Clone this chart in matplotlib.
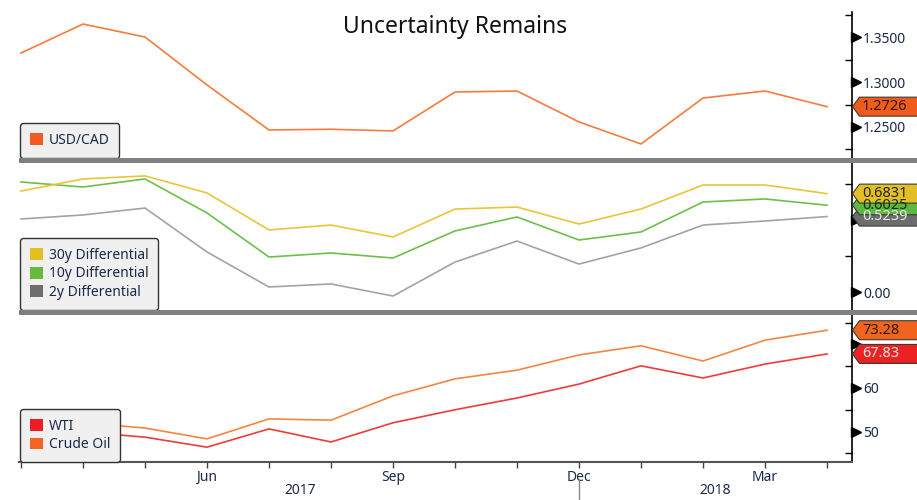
import matplotlib
matplotlib.use('Agg')
import matplotlib.pyplot as plt
from matplotlib.patches import Polygon, Rectangle, Patch
from matplotlib.transforms import blended_transform_factory, ScaledTranslation
import matplotlib.ticker as mticker

plt.rcParams['font.family'] = ['Noto Sans', 'DejaVu Sans']

# ---------------- data ----------------
months = ['Mar', 'Apr', 'May', 'Jun', 'Jul', 'Aug', 'Sep', 'Oct', 'Nov', 'Dec', 'Jan', 'Feb', 'Mar', 'Apr']
month_tick_labels = ['', '', '', 'Jun', '', '', 'Sep', '', '', 'Dec', '', '', 'Mar', '']
years = ['2017', '2018']

usdcad = [1.3322, 1.3644, 1.3500, 1.2967, 1.2467, 1.2475, 1.2456, 1.2889, 1.2900, 1.2556, 1.2311, 1.2822, 1.2900, 1.2726]
diff30 = [0.701, 0.785, 0.806, 0.688, 0.431, 0.465, 0.382, 0.576, 0.590, 0.472, 0.576, 0.743, 0.743, 0.6831]
diff10 = [0.764, 0.729, 0.785, 0.549, 0.243, 0.271, 0.236, 0.424, 0.521, 0.361, 0.417, 0.625, 0.646, 0.6025]
diff2 = [0.507, 0.535, 0.583, 0.278, 0.035, 0.056, -0.028, 0.208, 0.354, 0.194, 0.306, 0.465, 0.493, 0.5239]
crude = [53.3, 52.0, 50.8, 48.3, 52.9, 52.6, 58.2, 62.1, 64.1, 67.6, 69.7, 66.2, 71.0, 73.28]
wti = [50.8, 49.9, 48.7, 46.4, 50.6, 47.6, 52.0, 55.0, 57.7, 60.9, 65.1, 62.3, 65.5, 67.83]

x = list(range(len(months)))

W, H = 917, 500
fig = plt.figure(figsize=(W / 100, H / 100), dpi=100)
fig.patch.set_facecolor('white')

def fax(top_px, bot_px):
    return fig.add_axes([19 / W, 1 - bot_px / H, (852 - 19) / W, (bot_px - top_px) / H])

ax1 = fax(12, 157.5)
ax2 = fax(163, 309.5)
ax3 = fax(315, 462)

xlim = (-0.032, 13.403)
label_color = '#1c2a48'

def style_axis(ax, ylim, majors, major_labels, minors):
    ax.set_xlim(*xlim)
    ax.set_ylim(*ylim)
    ax.set_facecolor('white')
    for s in ['left', 'top', 'bottom']:
        ax.spines[s].set_visible(False)
    ax.spines['right'].set_color('black')
    ax.spines['right'].set_linewidth(1.2)
    ax.yaxis.tick_right()
    ax.yaxis.set_major_locator(mticker.FixedLocator(majors))
    ax.yaxis.set_major_formatter(mticker.FixedFormatter(major_labels))
    ax.yaxis.set_minor_locator(mticker.FixedLocator(minors))
    ax.tick_params(axis='y', which='major', length=0, pad=8, labelsize=10, labelcolor=label_color)
    ax.tick_params(axis='y', which='minor', direction='in', length=5, width=1, color='black')
    ax.tick_params(axis='x', which='both', bottom=False, labelbottom=False)
    off = ScaledTranslation(4 / 100, 0, fig.dpi_scale_trans)
    trans = blended_transform_factory(ax.transAxes, ax.transData) + off
    ax.plot([1] * len(majors), majors, ls='none', marker='>', ms=6.5, color='black',
            transform=trans, clip_on=False, zorder=4)

# labels at 0.50 and 70 are hidden behind the value callouts in the reference
style_axis(ax1, (1.2161, 1.3778), [1.25, 1.30, 1.35], ['1.2500', '1.3000', '1.3500'],
           [1.225, 1.275, 1.325, 1.375])
style_axis(ax2, (-0.1215, 0.8958), [0.0, 0.5], ['0.00', ''], [0.25, 0.75])
style_axis(ax3, (42.99, 76.78), [50, 60, 70], ['50', '60', ''], [45, 55, 65, 75])

lw = 1.2
ax1.plot(x, usdcad, color='#f47c3c', lw=lw)
ax2.plot(x, diff2, color='#a3a3a3', lw=lw)
ax2.plot(x, diff10, color='#6cc04a', lw=lw)
ax2.plot(x, diff30, color='#e8c53a', lw=lw)
ax3.plot(x, crude, color='#f5853f', lw=lw)
ax3.plot(x, wti, color='#ef3b3b', lw=lw)

# x axis on bottom panel
ax3.spines['bottom'].set_visible(True)
ax3.spines['bottom'].set_color('#555555')
ax3.spines['bottom'].set_linewidth(1.5)
ax3.set_xticks(x)
ax3.set_xticklabels(month_tick_labels)
ax3.tick_params(axis='x', which='major', bottom=True, labelbottom=True, direction='out',
                length=4, width=1, color='#444444', labelsize=10, labelcolor=label_color, pad=2)

ytr = blended_transform_factory(ax3.transData, fig.transFigure)
ax3.text(4.5, 1 - 491 / H, years[0], transform=ytr, ha='center', va='center',
         fontsize=10, color=label_color, clip_on=False)
ax3.text(11.2, 1 - 491 / H, years[1], transform=ytr, ha='center', va='center',
         fontsize=10, color=label_color, clip_on=False)
ax3.plot([9, 9], [1 - 479 / H, 0], transform=ytr, color='#888888', lw=1, clip_on=False)

# legends
def legend(ax, labels, colors):
    handles = [Patch(facecolor=c, edgecolor='none') for c in colors]
    leg = ax.legend(handles, labels, loc='lower left', bbox_to_anchor=(0.0015, 0.0),
                    borderaxespad=0, fontsize=10, handlelength=0.95, handleheight=0.95,
                    handletextpad=0.4, labelspacing=0.25, borderpad=0.7,
                    frameon=True, fancybox=True, framealpha=1)
    fr = leg.get_frame()
    fr.set_facecolor('#f0f0f0')
    fr.set_edgecolor('#333333')
    fr.set_linewidth(1)
    for t in leg.get_texts():
        t.set_color(label_color)
    leg.set_zorder(10)

legend(ax1, ['USD/CAD'], ['#f15a22'])
legend(ax2, ['30y Differential', '10y Differential', '2y Differential'], ['#e2c022', '#66bb3f', '#6e6e6e'])
legend(ax3, ['WTI', 'Crude Oil'], ['#ee1c24', '#f26522'])

# separator bars
for top_px, bot_px in [(157.5, 163), (309.5, 315)]:
    fig.patches.append(Rectangle((19 / W, 1 - bot_px / H), (W - 19) / W, (bot_px - top_px) / H,
                                 transform=fig.transFigure, facecolor='#808080', edgecolor='none',
                                 zorder=2))

# value callouts
def callout(ax, val, txt, fc, tc):
    yd = ax.transData.transform((0, val))[1]
    x0 = 852.5
    h = 19
    pts = [(x0, yd), (x0 + 7, yd + h / 2), (W + 5, yd + h / 2), (W + 5, yd - h / 2), (x0 + 7, yd - h / 2)]
    pts_f = [(px / W, py / H) for px, py in pts]
    fig.patches.append(Polygon(pts_f, closed=True, transform=fig.transFigure, facecolor=fc,
                               edgecolor='#3a3a3a', lw=0.8, zorder=5))
    fig.text(862 / W, yd / H, txt, ha='left', va='center', fontsize=10.5, color=tc, zorder=6)

callout(ax1, usdcad[-1], f'{usdcad[-1]:.4f}', '#f05a1a', '#2a1a10')
callout(ax2, diff2[-1], f'{diff2[-1]:.4f}', '#6d6d6d', '#e8e8e8')
callout(ax2, diff10[-1], f'{diff10[-1]:.4f}', '#5cb83e', '#123312')
callout(ax2, diff30[-1], f'{diff30[-1]:.4f}', '#e2be28', '#2a2410')
callout(ax3, crude[-1], f'{crude[-1]:.2f}', '#f0641e', '#2a1a10')
callout(ax3, wti[-1], f'{wti[-1]:.2f}', '#ec2222', '#fde8e8')

fig.text(455 / W, 1 - 27 / H, 'Uncertainty Remains', ha='center', va='center',
         fontsize=16.5, color='#111111')

fig.savefig('out.png', dpi=100, facecolor='white')
